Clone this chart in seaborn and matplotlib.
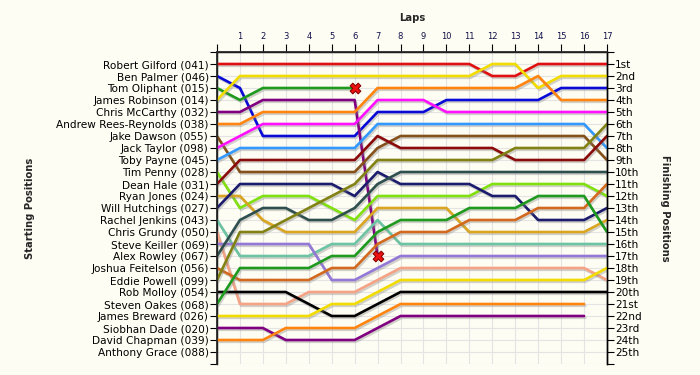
import numpy as np
import pandas as pd
import matplotlib
matplotlib.use("Agg")
import matplotlib.pyplot as plt
import matplotlib.patheffects as pe
import seaborn as sns

N = np.nan
laps = list(range(18))

drivers = [
    "Robert Gilford (041)", "Ben Palmer (046)", "Tom Oliphant (015)", "James Robinson (014)",
    "Chris McCarthy (032)", "Andrew Rees-Reynolds (038)", "Jake Dawson (055)", "Jack Taylor (098)",
    "Toby Payne (045)", "Tim Penny (028)", "Dean Hale (031)", "Ryan Jones (024)",
    "Will Hutchings (027)", "Rachel Jenkins (043)", "Chris Grundy (050)", "Steve Keiller (069)",
    "Alex Rowley (067)", "Joshua Feitelson (056)", "Eddie Powell (099)", "Rob Molloy (054)",
    "Steven Oakes (068)", "James Breward (026)", "Siobhan Dade (020)", "David Chapman (039)",
    "Anthony Grace (088)",
]

colors = [
    "#e01010", "#0a0ad8", "#1e9a1e", "#f2dc00",
    "#800080", "#ff8410", "#85501a", "#ff10ff",
    "#3399ff", "#80e010", "#8b0a0a", "#daa520",
    "#1c1c6e", "#6cc4a4", "#f5a285", "#9478d8",
    "#2f4f4f", "#d2691e", "#828214", "#000000",
    "#1e9a1e", "#f2dc00", "#800080", "#ff8410",
    "#888888",
]

positions = [
    [1, 1, 1, 1, 1, 1, 1, 1, 1, 1, 1, 1, 2, 2, 1, 1, 1, 1],
    [2, 3, 7, 7, 7, 7, 7, 5, 5, 5, 4, 4, 4, 4, 4, 3, 3, 3],
    [3, 4, 3, 3, 3, 3, 3, N, N, N, N, N, N, N, N, N, N, N],
    [4, 2, 2, 2, 2, 2, 2, 2, 2, 2, 2, 2, 1, 1, 3, 2, 2, 2],
    [5, 5, 4, 4, 4, 4, 4, 17, N, N, N, N, N, N, N, N, N, N],
    [6, 6, 5, 5, 5, 5, 5, 3, 3, 3, 3, 3, 3, 3, 2, 4, 4, 4],
    [7, 10, 10, 10, 10, 10, 10, 8, 7, 7, 7, 7, 7, 7, 7, 7, 7, 9],
    [8, 7, 6, 6, 6, 6, 6, 4, 4, 4, 5, 5, 5, 5, 5, 5, 5, 5],
    [9, 8, 8, 8, 8, 8, 8, 6, 6, 6, 6, 6, 6, 6, 6, 6, 6, 8],
    [10, 13, 12, 12, 12, 13, 14, 12, 12, 12, 12, 12, 11, 11, 11, 11, 11, 12],
    [11, 9, 9, 9, 9, 9, 9, 7, 8, 8, 8, 8, 8, 9, 9, 9, 9, 7],
    [12, 12, 14, 15, 15, 15, 15, 13, 13, 13, 13, 15, 15, 15, 15, 15, 15, 14],
    [13, 11, 11, 11, 11, 11, 12, 10, 11, 11, 11, 11, 12, 12, 14, 14, 14, 13],
    [14, 17, 17, 17, 17, 16, 16, 14, 16, 16, 16, 16, 16, 16, 16, 16, 16, 16],
    [15, 21, 21, 21, 20, 20, 20, 19, 18, 18, 18, 18, 18, 18, 18, 18, 18, 19],
    [16, 16, 16, 16, 16, 19, 19, 18, 17, 17, 17, 17, 17, 17, 17, 17, 17, 17],
    [17, 14, 13, 13, 14, 14, 13, 11, 10, 10, 10, 10, 10, 10, 10, 10, 10, 10],
    [18, 19, 19, 19, 19, 18, 18, 16, 15, 15, 15, 14, 14, 14, 13, 13, 13, 11],
    [19, 15, 15, 14, 13, 12, 11, 9, 9, 9, 9, 9, 9, 8, 8, 8, 8, 6],
    [20, 20, 20, 20, 21, 22, 22, 21, 20, 20, 20, 20, 20, 20, 20, 20, 20, 20],
    [21, 18, 18, 18, 18, 17, 17, 15, 14, 14, 14, 13, 13, 13, 12, 12, 12, 15],
    [22, 22, 22, 22, 22, 21, 21, 20, 19, 19, 19, 19, 19, 19, 19, 19, 19, 18],
    [23, 23, 23, 24, 24, 24, 24, 23, 22, 22, 22, 22, 22, 22, 22, 22, 22, N],
    [24, 24, 24, 23, 23, 23, 23, 22, 21, 21, 21, 21, 21, 21, 21, 21, 21, N],
    [N] * 18,
]

retired_driver = ["Tom Oliphant (015)", "Chris McCarthy (032)"]
retired_lap = [6, 7]
retired_pos = [3, 17]

finish_labels = ["1st", "2nd", "3rd"] + [f"{i}th" for i in range(4, 21)] + ["21st", "22nd", "23rd", "24th", "25th"]

# ---- build long table ----
rows = []
for d, pos in zip(drivers, positions):
    for lap, p in zip(laps, pos):
        rows.append({"driver": d, "lap": lap, "pos": p})
df = pd.DataFrame(rows).dropna()
palette = dict(zip(drivers, colors))
ret_df = pd.DataFrame({"driver": retired_driver, "lap": retired_lap, "pos": retired_pos})

bg = "#fdfdf3"
sns.set_theme(style="white")
plt.rcParams["font.family"] = ["DejaVu Sans"]

fig = plt.figure(figsize=(7, 3.75), dpi=100, facecolor=bg)
ax = fig.add_axes([217 / 700, 1 - 364 / 375, 390 / 700, 312 / 375])
ax.set_facecolor(bg)

order = [d for d in drivers if d in set(df["driver"])]
sns.lineplot(data=df, x="lap", y="pos", hue="driver", hue_order=order, palette=palette,
             estimator=None, sort=False, legend=False, linewidth=1.9, ax=ax, zorder=3)
for ln in ax.lines:
    ln.set_path_effects([pe.SimpleLineShadow(offset=(0.9, -1.3), shadow_color="#808080", alpha=0.35),
                         pe.Normal()])

sns.scatterplot(data=ret_df, x="lap", y="pos", marker="X", s=60, color="#ee1111",
                edgecolor="#800000", linewidth=0.7, ax=ax, zorder=5, legend=False)

ax.set_xlim(0, 17)
ax.set_ylim(26, 0)

ax.set_yticks(range(0, 27))
ax.set_yticklabels([""] + drivers + [""], fontsize=7.6, color="#000000")
ax.set_xticks(laps)
ax.set_xticklabels([""] + [str(i) for i in laps[1:]], fontsize=6, color="#10104a")
ax.xaxis.tick_top()
ax.tick_params(axis="x", which="both", top=True, bottom=False, direction="out", length=6,
               width=0.8, color="black", pad=2)
ax.tick_params(axis="y", which="both", left=True, direction="out", length=5, width=0.8,
               color="black", pad=1)
ax.grid(True, color="#e4e4e4", linewidth=0.8, zorder=0)
ax.set_axisbelow(True)
ax.spines["bottom"].set_visible(False)
for s in ["left", "top", "right"]:
    ax.spines[s].set_color("black")
    ax.spines[s].set_linewidth(1.0)
ax.set_xlabel("")
ax.set_ylabel("")

ax2 = ax.twinx()
ax2.set_ylim(26, 0)
ax2.set_yticks(range(0, 27))
ax2.set_yticklabels([""] + finish_labels + [""], fontsize=7.6, color="#000000")
ax2.tick_params(axis="y", right=True, direction="out", length=5, width=0.8, color="black", pad=1)
ax2.spines["bottom"].set_visible(False)
ax2.spines["right"].set_color("black")
ax2.spines["right"].set_linewidth(1.0)
ax2.grid(False)
ax2.set_ylabel("")

fig.text(412 / 700, 1 - 18 / 375, "Laps", ha="center", va="center", fontsize=7.2, fontweight="bold")
fig.text(30 / 700, 1 - 208 / 375, "Starting Positions", ha="center", va="center", rotation=90,
         fontsize=7.2, fontweight="bold")
fig.text(665 / 700, 1 - 208 / 375, "Finishing Positions", ha="center", va="center", rotation=270,
         fontsize=7.2, fontweight="bold")

fig.savefig("out.png", dpi=100, facecolor=bg)
